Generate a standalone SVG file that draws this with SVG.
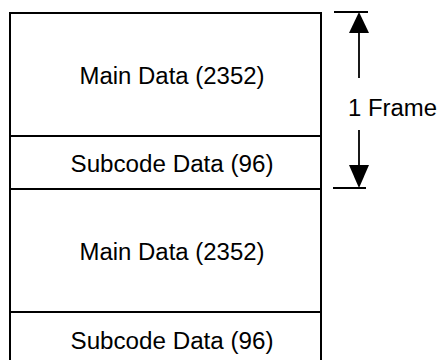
<svg xmlns="http://www.w3.org/2000/svg" width="441" height="360" viewBox="0 0 441 360">
<style>
.box{fill:#fff;stroke:#000;stroke-width:2}
.t{font-family:"Liberation Sans",Arial,sans-serif;font-size:23px;fill:#000;text-anchor:middle}
.ln{stroke:#000;stroke-width:1.8;fill:none}
</style>
<rect width="441" height="360" fill="#fff"/>
<g id="main1"><rect class="box" x="10" y="13" width="311" height="123"/><text class="t" x="172" y="84" textLength="185" lengthAdjust="spacingAndGlyphs">Main Data (2352)</text></g>
<g id="sub1"><rect class="box" x="10" y="136" width="311" height="53"/><text class="t" x="172" y="172" textLength="203" lengthAdjust="spacingAndGlyphs">Subcode Data (96)</text></g>
<g id="main2"><rect class="box" x="10" y="189" width="311" height="123"/><text class="t" x="172" y="260" textLength="185" lengthAdjust="spacingAndGlyphs">Main Data (2352)</text></g>
<g id="sub2"><rect class="box" x="10" y="312" width="311" height="60"/><text class="t" x="172" y="349" textLength="203" lengthAdjust="spacingAndGlyphs">Subcode Data (96)</text></g>
<g id="connectors">
<line class="ln" x1="334" y1="12" x2="368" y2="12"/>
<line class="ln" x1="333" y1="188" x2="366" y2="188"/>
<line class="ln" x1="359" y1="32" x2="359" y2="78"/>
<line class="ln" x1="359" y1="130" x2="359" y2="166"/>
<polygon points="359,12 349,33 369,33" fill="#000"/>
<polygon points="359,188 349,165 369,165" fill="#000"/>
</g>
<g id="label"><text font-family="Liberation Sans, Arial, sans-serif" font-size="23" x="348" y="116" textLength="89" lengthAdjust="spacingAndGlyphs">1 Frame</text></g>
</svg>
